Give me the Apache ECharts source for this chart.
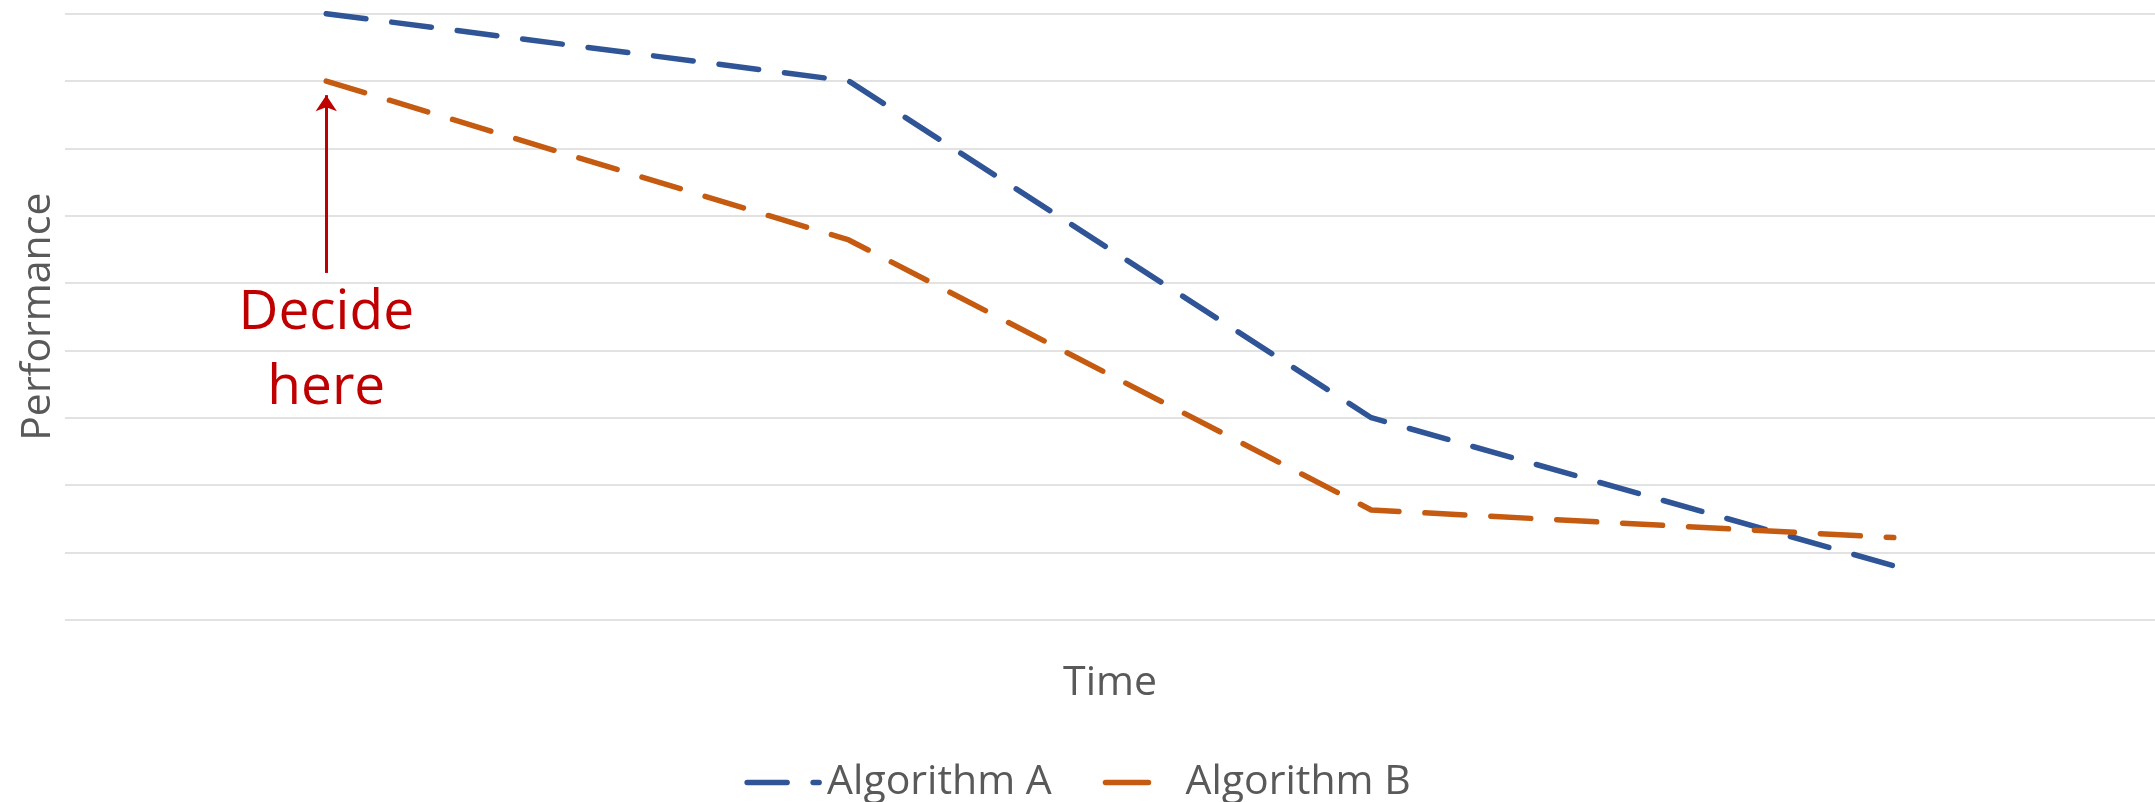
<!DOCTYPE html>
<html>
<head>
<meta charset="utf-8">
<script src="https://cdn.jsdelivr.net/npm/echarts@6/dist/echarts.min.js"></script>
<style>html,body{margin:0;padding:0;background:#fff}#c{width:2155px;height:802px}</style>
</head>
<body>
<div id="c"></div>
<script>
var categories = ['t1', 't2', 't3', 't4'];
var algorithmA = [9.0, 8.0, 3.0, 0.8];
var algorithmB = [8.0, 5.64, 1.63, 1.22];
var seriesNames = ['Algorithm A', 'Algorithm B'];
var arrowFrom = 5.15;
var arrowTo = 7.79;
var notePos = 3.99;
var noteText = 'Decide\nhere';

var FONT = 'Open Sans';
var TXT = '#595959';
var chart = echarts.init(document.getElementById('c'));
chart.setOption({
  animation: false,
  grid: { left: 65, right: 0, top: 13.7, bottom: 182.3 },
  legend: {
    left: 'center', top: 757,
    itemWidth: 72, itemHeight: 14, itemGap: 51,
    textStyle: { fontFamily: FONT, fontSize: 41, color: TXT, padding: [0, 0, 0, 3] },
    itemStyle: { opacity: 0 },
    lineStyle: { width: 5.5, cap: 'round' },
    data: [
      { name: seriesNames[0], lineStyle: { width: 5.5, type: [40, 26], cap: 'round' } },
      { name: seriesNames[1], lineStyle: { width: 5.5, type: [43, 100], cap: 'round' } }
    ]
  },
  xAxis: {
    type: 'category', data: categories, boundaryGap: true,
    name: 'Time', nameLocation: 'middle', nameGap: 43,
    nameTextStyle: { fontFamily: FONT, fontSize: 41, color: TXT },
    axisLine: { show: false }, axisTick: { show: false }, axisLabel: { show: false }
  },
  yAxis: {
    type: 'value', min: 0, max: 9, interval: 1,
    name: 'Performance', nameLocation: 'middle', nameGap: 6,
    nameTextStyle: { fontFamily: FONT, fontSize: 41, color: TXT },
    axisLine: { show: false }, axisTick: { show: false }, axisLabel: { show: false },
    splitLine: { lineStyle: { color: '#D9D9D9', width: 1.5 } }
  },
  series: [
    {
      name: seriesNames[0], type: 'line', data: algorithmA, symbol: 'none',
      color: '#2F5597',
      lineStyle: { color: '#2F5597', width: 5.5, type: [40, 26], cap: 'round', join: 'round' }
    },
    {
      name: seriesNames[1], type: 'line', data: algorithmB, symbol: 'none',
      color: '#C55A11',
      lineStyle: { color: '#C55A11', width: 5.5, type: [40, 26], cap: 'round', join: 'round' },
      markLine: {
        silent: true, animation: false,
        symbol: ['none', 'arrow'], symbolSize: [16, 16],
        lineStyle: { color: '#C00000', width: 3, type: 'solid' },
        label: { show: false },
        data: [[{ coord: [categories[0], arrowFrom] }, { coord: [categories[0], arrowTo] }]]
      },
      markPoint: {
        silent: true, animation: false,
        symbol: 'circle', symbolSize: 0,
        itemStyle: { color: 'transparent' },
        label: {
          show: true, position: 'inside', formatter: noteText,
          fontFamily: FONT, fontSize: 55, lineHeight: 75, color: '#C00000', align: 'center', verticalAlign: 'middle'
        },
        data: [{ coord: [categories[0], notePos] }]
      }
    }
  ]
});
</script>
</body>
</html>
